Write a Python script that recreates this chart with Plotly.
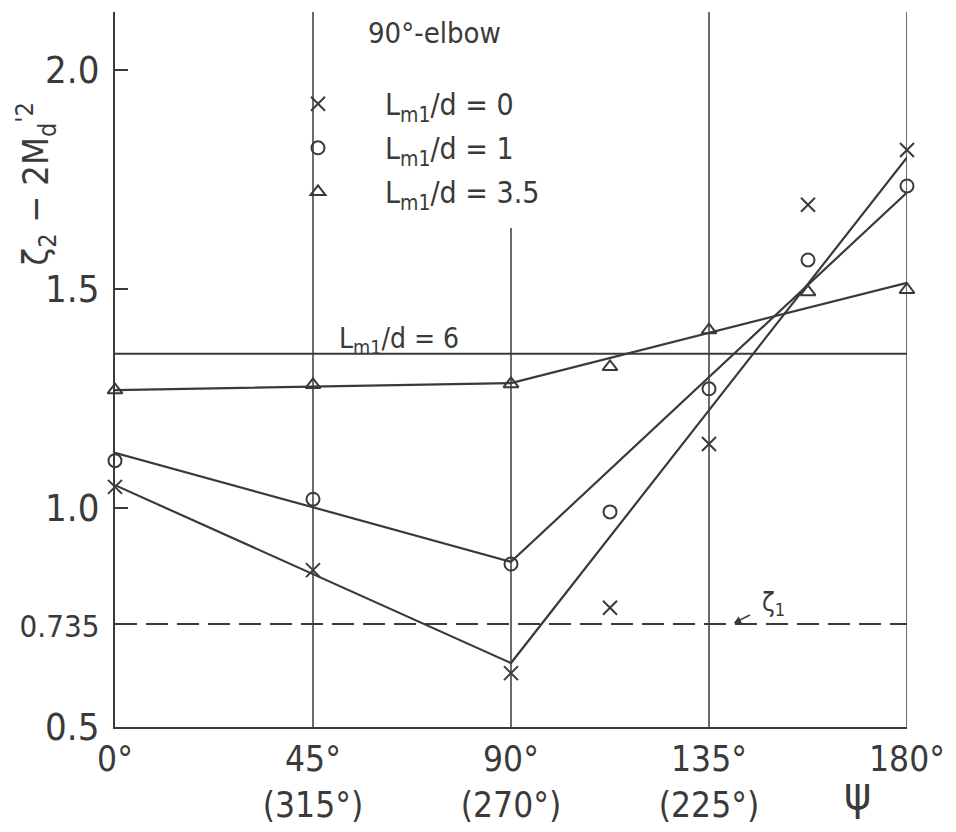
import plotly.graph_objects as go

# ---- data ----
psi = [0, 45, 90, 112.5, 135, 157.5, 180]
lm0 = [1.048, 0.858, 0.623, 0.772, 1.146, 1.692, 1.817]     # Lm1/d = 0  (x)
lm1 = [1.108, 1.020, 0.872, 0.991, 1.272, 1.566, 1.735]     # Lm1/d = 1  (o)
lm35 = [1.269, 1.281, 1.283, 1.322, 1.406, 1.493, 1.498]    # Lm1/d = 3.5 (triangle)

fit_psi = [0, 90, 180]
fit0 = [1.052, 0.646, 1.800]
fit1 = [1.126, 0.877, 1.720]
fit35 = [1.269, 1.285, 1.514]

lm6_level = 1.352      # Lm1/d = 6
zeta1_level = 0.735    # zeta_1

x_tickvals = [0, 45, 90, 135, 180]
x_ticktext = ["0°", "45°<br>(315°)", "90°<br>(270°)", "135°<br>(225°)", "180°"]
y_tickvals = [0.5, 0.735, 1.0, 1.5, 2.0]
y_ticktext = ["0.5", "<span style='font-size:31px'>0.735</span>", "1.0", "1.5", "2.0"]

FONT = "Liberation Sans Narrow, DejaVu Sans Condensed, Liberation Sans, sans-serif"
INK = "#3a3a3a"

# page body has an 8px margin: the figure is shifted by it
OFF = 8
W, H = 956 - OFF, 832 - OFF
L, T, R, B = 115 - OFF, 12 - OFF, 49, 105

fig = go.Figure()

# fitted lines
for fy in (fit0, fit1, fit35):
    fig.add_trace(go.Scatter(x=fit_psi, y=fy, mode="lines",
                             line=dict(color=INK, width=2.2), showlegend=False,
                             hoverinfo="skip", cliponaxis=False))

# reference lines
fig.add_trace(go.Scatter(x=[0, 180], y=[lm6_level, lm6_level], mode="lines",
                         line=dict(color=INK, width=2.2), showlegend=False))
fig.add_trace(go.Scatter(x=[0, 180], y=[zeta1_level, zeta1_level], mode="lines",
                         line=dict(color=INK, width=2, dash="22px,9px"), showlegend=False))

# data markers
series = [
    (lm0, "x-thin-open", "L<sub>m1</sub>/d = 0", 14),
    (lm1, "circle-open", "L<sub>m1</sub>/d = 1", 13),
    (lm35, "triangle-up-open", "L<sub>m1</sub>/d = 3.5", 13),
]
for i, (vals, sym, name, sz) in enumerate(series):
    fig.add_trace(go.Scatter(x=psi, y=vals, mode="markers", name=name,
                             legendgroup=f"g{i}",
                             marker=dict(symbol=sym, size=sz, color=INK,
                                         line=dict(color=INK, width=2)),
                             cliponaxis=False))

# vertical grid lines
shapes = []
for xv in (45, 135, 180):
    shapes.append(dict(type="line", xref="x", yref="paper", x0=xv, x1=xv, y0=0, y1=1,
                       line=dict(color=INK, width=1.5), layer="below"))
shapes.append(dict(type="line", xref="x", yref="y", x0=90, x1=90, y0=0.5, y1=1.639,
                   line=dict(color=INK, width=1.5), layer="below"))

annotations = [
    dict(text="90°-elbow", x=72.5, y=2.085, xref="x", yref="y", showarrow=False,
         xanchor="center", yanchor="middle",
         font=dict(size=29, color=INK, family=FONT)),
    dict(text="L<sub>m1</sub>/d = 6", x=64.5, y=1.383, xref="x", yref="y", showarrow=False,
         xanchor="center", yanchor="middle",
         font=dict(size=28, color=INK, family=FONT)),
    dict(text="ζ<sub>1</sub>", x=140.6, y=0.737, xref="x", yref="y", showarrow=True,
         ax=40, ay=-20, arrowhead=2, arrowsize=1, startstandoff=12,
         arrowwidth=1.5, arrowcolor=INK, standoff=0,
         font=dict(size=26, color=INK, family=FONT)),
    dict(text="ψ", x=0.937, y=-0.092, xref="paper", yref="paper", showarrow=False,
         xanchor="center", yanchor="middle",
         font=dict(size=46, color=INK, family=FONT)),
    dict(text="ζ<sub>2</sub> − 2M<sub>d</sub><sup>'2</sup>", x=-0.1, y=0.76,
         xref="paper", yref="paper", showarrow=False, textangle=-90,
         xanchor="center", yanchor="middle",
         font=dict(size=36, color=INK, family=FONT)),
]

fig.update_layout(
    width=W, height=H,
    margin=dict(l=L, r=R, t=T, b=B, autoexpand=False),
    plot_bgcolor="white", paper_bgcolor="white",
    font=dict(family=FONT, color=INK, size=28),
    shapes=shapes, annotations=annotations,
    showlegend=True,
    legend=dict(x=(251 - 115) / 792, y=0.908, xanchor="left", yanchor="top",
                bgcolor="rgba(0,0,0,0)", font=dict(size=30, family=FONT, color=INK),
                tracegroupgap=2, itemwidth=124, traceorder="grouped"),
    xaxis=dict(range=[0, 180], tickvals=x_tickvals, ticktext=x_ticktext,
               showgrid=False, zeroline=False, showline=True, linecolor=INK, linewidth=2,
               ticks="", automargin=False,
               tickfont=dict(size=35, family=FONT, color=INK)),
    yaxis=dict(range=[0.5, 2.132], tickvals=y_tickvals, ticktext=y_ticktext,
               showgrid=False, zeroline=False, showline=True, linecolor=INK, linewidth=2,
               ticks="inside", ticklen=13, tickwidth=1.5, tickcolor=INK,
               ticklabelstandoff=6, automargin=False,
               tickfont=dict(size=38, family=FONT, color=INK)),
)

fig.write_html("out.html")
